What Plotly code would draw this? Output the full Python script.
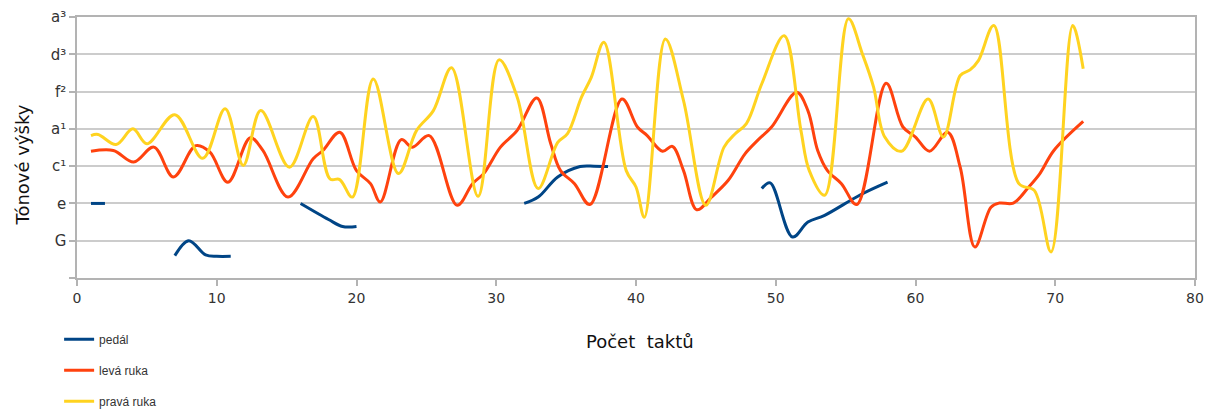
import plotly.graph_objects as go

# --- data ---
ped_segments = [
    ([1, 2], [2.0, 2.0]),
    ([7, 8, 9.2, 10, 11], [0.6, 1.0, 0.62, 0.58, 0.58]),
    ([16, 18, 19, 20], [2.0, 1.57, 1.38, 1.38]),
    ([32, 33, 34.4, 36, 37, 38], [2.0, 2.17, 2.71, 2.99, 3.0, 2.99]),
    ([49, 49.6, 51.2, 52.3, 53.5, 56, 58], [2.4, 2.55, 1.1, 1.5, 1.68, 2.22, 2.57]),
]

lh_x = [1.0, 2.6, 4.06, 5.5, 6.9, 8.5, 9.5, 10.8, 12.4, 13.3, 15.1, 16.9, 17.6, 18.8,
        20.0, 21.0, 21.7, 23.2, 24.0, 25.2, 27.2, 28.3, 29.1, 30.3, 31.5, 32.9,
        33.9, 34.6, 35.6, 36.7, 39.0, 40.1, 40.8, 41.9, 42.6, 43.4, 44.35,
        45.4, 46.6, 47.8, 48.7, 49.7, 51.5, 52.3, 53.0, 53.7, 54.7, 55.8,
        57.9, 59.1, 60.0, 61.0, 62.3, 63.2, 64.25, 65.4, 66.0, 67.0, 68.1,
        68.9, 69.9, 72.0]
lh_y = [3.4, 3.42, 3.11, 3.51, 2.71, 3.55, 3.38, 2.57, 3.76, 3.42, 2.17, 3.2, 3.42, 3.91,
        2.88, 2.53, 2.04, 3.71, 3.51, 3.82, 1.95, 2.53, 2.8, 3.51, 3.96, 4.83,
        3.6, 2.88, 2.53, 1.97, 4.8, 4.05, 3.82, 3.4, 3.53, 2.88, 1.83,
        2.17, 2.62, 3.33, 3.69, 4.05, 4.98, 4.49, 3.42, 2.88, 2.53, 1.97,
        5.22, 4.05, 3.78, 3.4, 3.91, 2.97, 0.83, 1.9, 2.01, 2.01, 2.44,
        2.8, 3.42, 4.2]

rh_x = [1.0, 1.5, 2.8, 4.0, 5.0, 7.0, 9.0, 10.6, 11.9, 13.15, 15.2, 16.9, 18.1, 18.8,
        19.7, 21.2, 23.0, 24.3, 25.5, 26.8, 28.7, 30.2, 31.5, 33.0, 34.4, 35.1,
        36.1, 36.8, 37.7, 39.3, 40.0, 40.6, 42.1, 43.4, 45.0, 46.3, 47.1, 47.9,
        49.0, 50.6, 51.8, 52.4, 53.5, 55.2, 56.2, 57.0, 57.8, 59.0, 60.9, 62.0,
        63.2, 63.9, 64.5, 65.6, 67.4, 68.5, 69.7, 71.25, 72.0]
rh_y = [3.82, 3.85, 3.58, 4.0, 3.6, 4.38, 3.21, 4.54, 3.02, 4.49, 2.97, 4.33, 2.66, 2.64,
        2.17, 5.34, 2.8, 3.96, 4.49, 5.64, 2.19, 5.85, 4.85, 2.4, 3.64, 3.87,
        4.85, 5.38, 6.32, 2.88, 2.44, 1.63, 6.41, 4.76, 1.95, 3.51, 3.87, 4.14,
        5.21, 6.5, 3.96, 2.88, 2.22, 6.95, 6.01, 5.12, 3.78, 3.4, 4.8, 3.78,
        5.43, 5.58, 5.83, 6.77, 2.53, 2.35, 0.7, 6.77, 5.61]

y_tickvals = [0, 1, 2, 3, 4, 5, 6, 7]
y_ticktext = ["", "G", "e", "c¹", "a¹", "f²", "d³", "a³"]
x_tickvals = [0, 10, 20, 30, 40, 50, 60, 70, 80]

BLUE, RED, YELLOW = "#004586", "#ff420e", "#ffd320"

fig = go.Figure()
for i, (sx, sy) in enumerate(ped_segments):
    fig.add_trace(go.Scatter(x=sx, y=sy, mode="lines", name="pedál",
                             line=dict(color=BLUE, width=3, shape="spline", smoothing=1.0),
                             showlegend=(i == 0), legendgroup="g1"))
fig.add_trace(go.Scatter(x=lh_x, y=lh_y, mode="lines", name="levá ruka",
                         line=dict(color=RED, width=3, shape="spline", smoothing=1.0),
                         legendgroup="g2"))
fig.add_trace(go.Scatter(x=rh_x, y=rh_y, mode="lines", name="pravá ruka",
                         line=dict(color=YELLOW, width=3, shape="spline", smoothing=1.0),
                         legendgroup="g3"))

fig.update_layout(
    width=1209, height=412,
    margin=dict(l=76.5, r=13.5, t=17, b=134, autoexpand=False),
    paper_bgcolor="white", plot_bgcolor="white",
    font=dict(family="DejaVu Sans", size=14, color="#333333"),
    legend=dict(orientation="v", x=-0.016, xanchor="left",
                yref="container", y=0.212, yanchor="top",
                font=dict(family="Liberation Sans", size=12, color="#333333"),
                tracegroupgap=12, itemwidth=30, bgcolor="rgba(0,0,0,0)"),
    xaxis=dict(range=[0, 80], tickvals=x_tickvals, showgrid=False, zeroline=False,
               automargin=False,
               showline=True, linecolor="#b3b3b3", linewidth=1.5, mirror=True,
               ticks="outside", ticklen=6, tickcolor="#b3b3b3", tickwidth=1.5,
               tickfont=dict(family="DejaVu Sans", size=14, color="#333333")),
    yaxis=dict(range=[0, 7], tickvals=y_tickvals, ticktext=y_ticktext, showgrid=True,
               automargin=False,
               gridcolor="#cccccc", gridwidth=1.5, zeroline=False,
               showline=True, linecolor="#b3b3b3", linewidth=1.5, mirror=True,
               ticks="outside", ticklen=6, tickcolor="#b3b3b3", tickwidth=1.5,
               tickfont=dict(family="DejaVu Sans", size=15, color="#333333")),
    annotations=[
        dict(text="Tónové výšky", textangle=-90, showarrow=False,
             xref="paper", yref="paper", x=-0.0487, y=0.433,
             xanchor="center", yanchor="middle",
             font=dict(family="DejaVu Sans", size=18, color="#111111")),
        dict(text="Počet  taktů", showarrow=False,
             xref="paper", yref="paper", x=0.5036, y=-0.245,
             xanchor="center", yanchor="middle",
             font=dict(family="DejaVu Sans", size=18, color="#111111")),
    ],
)

fig.write_html("out.html", config={"displayModeBar": False},
               post_script="document.body.style.margin='0';")
